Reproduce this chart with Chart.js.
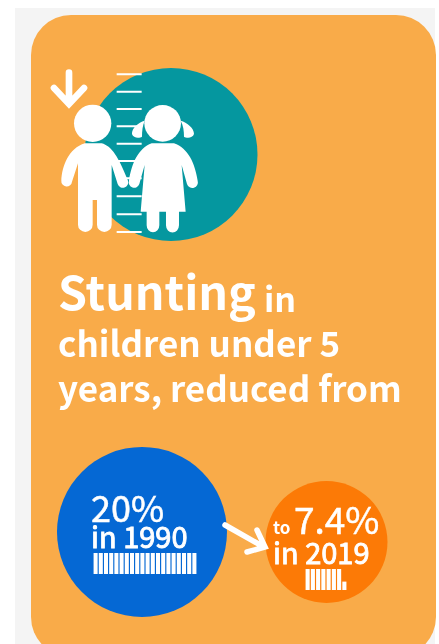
<!DOCTYPE html>
<html>
<head>
<meta charset="utf-8">
<title>Stunting in children under 5</title>
<script src="https://cdn.jsdelivr.net/npm/chart.js@4"></script>
<style>
  html, body { margin: 0; padding: 0; width: 439px; height: 644px; overflow: hidden; background: #fff; }
  body { position: relative; font-family: "Noto Sans CJK SC", "Noto Sans", sans-serif; color: #fff; }
  #panel { position: absolute; left: 15px; top: 8px; width: 420px; height: 640px; background: #f4f4f4; }
  #card { position: absolute; left: 31px; top: 15px; width: 405px; height: 642px; border-radius: 40px; background: #f9ab49; }
  canvas, svg, .t { position: absolute; }
  .t { white-space: nowrap; line-height: 1; }
  .b { font-weight: 700; }
  .m { -webkit-text-stroke: 0.5px #fff; }
  .n { -webkit-text-stroke: 0.9px #fff; }
</style>
</head>
<body>
<div id="panel"></div>
<div id="card"></div>

<svg width="439" height="644" style="left:0;top:0">
  <circle cx="171" cy="154.5" r="86.5" fill="#05979f"/>
  <g transform="translate(40,60) scale(0.3333)" fill="#fff" stroke="none">
    <g stroke="#fff" stroke-width="6">
      <path d="M230 43H305M230 95H305M230 147H305M230 199H305M230 251H305M230 303H305M230 355H305M230 409H305M230 463H305M230 516H305"/>
    </g>
    <path d="M87 38V130M42 84L87 132L132 84" fill="none" stroke="#fff" stroke-width="20" stroke-linecap="round" stroke-linejoin="miter"/>
    <circle cx="158" cy="190" r="56"/>
    <path d="M64 362C66 320 85 265 135 250L185 250C215 258 235 290 264 362A16 16 0 0 1 233 372L215 315L215 494A22 22 0 0 1 171 494L171 420L158 420L158 494A22 22 0 0 1 114 494L114 310L96 365A16 16 0 0 1 64 362Z"/>
    <circle cx="368" cy="190" r="55"/>
    <path d="M314 182C295 187 275 205 276 222C280 236 300 234 306 230C306 212 308 197 314 182Z"/>
    <path d="M422 182C441 187 463 205 462 222C458 236 438 234 432 230C432 212 430 197 422 182Z"/>
    <path d="M267 362C275 310 295 265 335 250L402 250C445 265 465 310 473 362A16 16 0 0 1 441 372L425 315L437 455L417 455L417 496A19 21 0 0 1 378 496L378 455L358 455L358 496A19 21 0 0 1 320 496L320 455L302 455L314 315L298 372A16 16 0 0 1 267 362Z"/>
  </g>
</svg>

<canvas id="bubbleChart" width="345" height="185" style="left:50px;top:440px"></canvas>
<canvas id="barsFrom" width="104" height="21" style="left:93px;top:553px"></canvas>
<canvas id="barsTo" width="42" height="21" style="left:305px;top:569px"></canvas>

<svg width="439" height="644" style="left:0;top:0">
  <path d="M225 525L262 546M257 530L265 547L247 552" fill="none" stroke="#fff" stroke-width="5.5" stroke-linecap="round" stroke-linejoin="miter"/>
</svg>

<div class="t b" style="left:58px;top:267px;font-size:46.5px">Stunting</div>
<div class="t b" style="left:264px;top:281px;font-size:34px">in</div>
<div class="t b" style="left:58px;top:323.5px;font-size:35px">children under 5</div>
<div class="t b" style="left:58px;top:368.5px;font-size:35px">years, reduced from</div>

<div class="t m" style="left:91px;top:488px;font-size:36px">20%</div>
<div class="t n" style="left:91px;top:521px;font-size:29px">in 1990</div>
<div class="t b" style="left:273px;top:518px;font-size:17px">to</div>
<div class="t m" style="left:294px;top:500px;font-size:37px">7.4%</div>
<div class="t n" style="left:273px;top:537px;font-size:29px">in 2019</div>

<script>
// values
const years = [1990, 2019];
const stuntingPct = [20, 7.4];

// one bar per percentage point, the last one partly filled
const unitsFrom = [1, 1, 1, 1, 1, 1, 1, 1, 1, 1, 1, 1, 1, 1, 1, 1, 1, 1, 1, 1];
const unitsTo = [1, 1, 1, 1, 1, 1, 1, 0.4];

const hiddenPlugins = { legend: { display: false }, tooltip: { enabled: false } };

new Chart(document.getElementById('bubbleChart'), {
  type: 'bubble',
  data: {
    datasets: [{
      data: years.map((year, i) => ({ x: year, y: stuntingPct[i] })),
      backgroundColor: ['#0568d4', '#fc7a06'],
      radius: [85, 61],
      borderWidth: 0,
      clip: false
    }]
  },
  options: {
    responsive: false,
    animation: false,
    layout: { autoPadding: false },
    plugins: hiddenPlugins,
    scales: {
      x: { type: 'linear', display: false, min: 1975.54, max: 2029.77 },
      y: { type: 'linear', display: false, min: -97.2, max: 135.9 }
    }
  }
});

function unitBars(id, units) {
  new Chart(document.getElementById(id), {
    type: 'bar',
    data: {
      labels: units.map((u, i) => i + 1),
      datasets: [{
        data: units,
        backgroundColor: '#fff',
        inflateAmount: 0,
        categoryPercentage: 1,
        barPercentage: 0.78
      }]
    },
    options: {
      responsive: false,
      animation: false,
      layout: { autoPadding: false },
      plugins: hiddenPlugins,
      scales: {
        x: { display: false },
        y: { display: false, min: 0, max: 1 }
      }
    }
  });
}

unitBars('barsFrom', unitsFrom);
unitBars('barsTo', unitsTo);
</script>
</body>
</html>
